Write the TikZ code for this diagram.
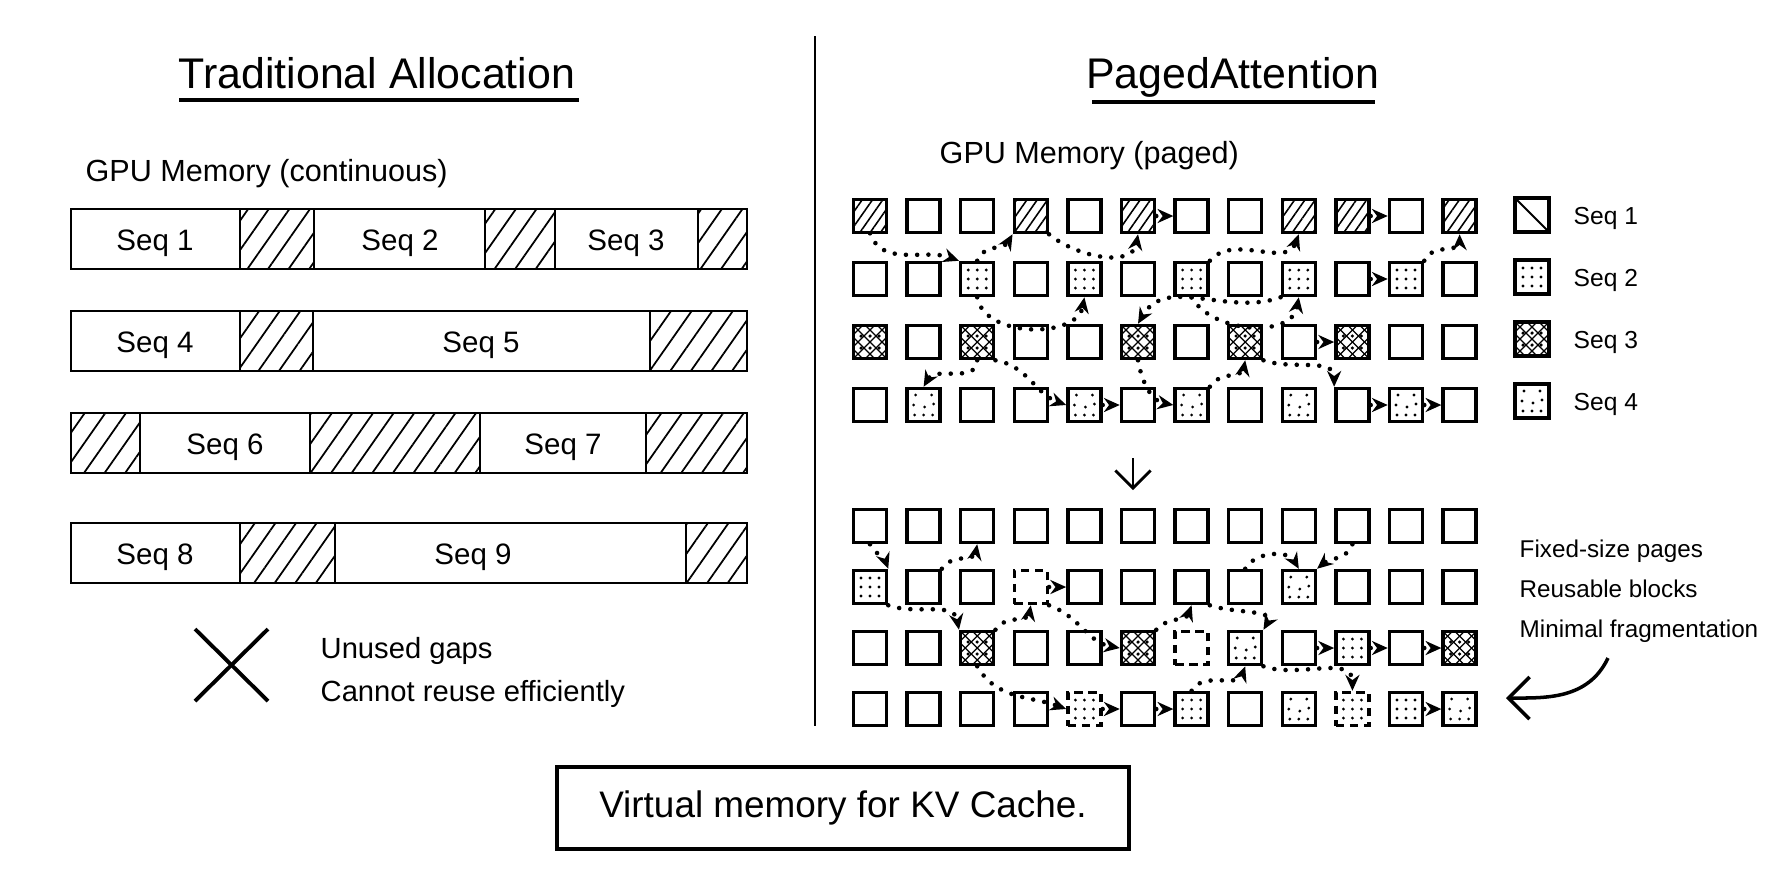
\documentclass[tikz,border=0pt]{standalone}
\usepackage{fontspec}
\setmainfont{Liberation Sans}
\usetikzlibrary{arrows.meta, patterns.meta, positioning}

\tikzset{
  blk/.style={draw, line width=1pt, inner sep=0pt, minimum width=3.3mm, minimum height=3.3mm},
  kind e/.style={},
  kind h/.style={pattern={Lines[angle=55,distance=2.4pt,line width=0.45pt]}},
  kind d/.style={path picture={\begin{scope}[shift={(path picture bounding box.center)}]
      \foreach \i in {-9,0,9} \foreach \j in {-9,0,9} \fill (\i,\j) circle (0.45pt);
    \end{scope}}},
  kind s/.style={path picture={\begin{scope}[shift={(path picture bounding box.center)}]
      \foreach \i/\j in {-8/-10,8/-10,-10/0,1/2,10/-1,-9/10,0/10,9/10} \fill (\i,\j) circle (0.45pt);
    \end{scope}}},
  kind x/.style={path picture={\begin{scope}[shift={(path picture bounding box.center)}]
      \foreach \s in {-24,-12,0,12,24} {
        \draw[line width=0.35pt] (\s-18,18) -- (\s+18,-18);
        \draw[line width=0.35pt] (\s-18,-18) -- (\s+18,18);
      }
      \foreach \i in {-9,0,9} \foreach \j in {-6,6} \fill (\i,\j) circle (0.5pt);
    \end{scope}}},
  kind f/.style={dash pattern=on 2.4pt off 1.6pt},
  kind g/.style={kind f, kind d},
  kind l/.style={path picture={\draw[line width=0.6pt] (path picture bounding box.north west) -- (path picture bounding box.south east);}},
  link/.style={line width=1.3pt, dash pattern=on 0pt off 3.2pt, line cap=round, -{Stealth[length=4.5pt,width=4pt]}},
  bar/.style={line width=0.8pt},
  gap/.style={line width=0.8pt, pattern={Lines[angle=55,distance=4.8pt,line width=0.5pt]}},
  ttl/.style={anchor=base, inner sep=0pt, font=\fontsize{12.2}{15}\selectfont},
  sub/.style={anchor=base west, inner sep=0pt, font=\fontsize{8.7}{11}\selectfont},
  seqlbl/.style={anchor=base, inner sep=0pt, font=\fontsize{8.4}{10}\selectfont},
  leglbl/.style={anchor=base west, inner sep=0pt, font=\fontsize{7}{9}\selectfont},
  note/.style={anchor=base west, inner sep=0pt, font=\fontsize{8.3}{10}\selectfont},
  notes/.style={anchor=base west, inner sep=0pt, font=\fontsize{6.9}{9}\selectfont}
}

\begin{document}
\begin{tikzpicture}[x=0.1mm, y=-0.1mm]
  \useasboundingbox (0,0) rectangle (1774,887);
  \fill[white] (0,0) rectangle (1774,887);

  % titles
  \node[ttl] (ttl-trad) at (377,88) {Traditional Allocation};
  \draw[line width=0.9pt] (179,100) -- (579,100);
  \node[ttl] (ttl-paged) at (1233,88) {PagedAttention};
  \draw[line width=0.9pt] (1092,102) -- (1375,102);
  \draw[line width=0.7pt] (815,36) -- (815,726);

  % left: continuous memory
  \node[sub] (mem-cont) at (85,181) {GPU Memory (continuous)};
  \foreach \xa/\xb/\ya in {240/314/209, 485/555/209, 698/747/209, 240/313/311, 650/747/311,
      71/140/413, 310/480/413, 646/747/413, 240/335/523, 686/747/523}
    \draw[gap] (\xa,\ya) rectangle (\xb,\ya+60);
  \foreach \ya in {209,311,413,523}
    \draw[bar] (71,\ya) rectangle (747,\ya+60);
  \foreach \n/\x/\y in {1/155/209, 2/400/209, 3/626/209, 4/155/311, 5/481/311,
      6/225/413, 7/563/413, 8/155/523, 9/473/523}
    \node[seqlbl] (seq\n) at (\x,\y+41) {Seq \n};

  % big cross
  \draw[line width=1.1pt] (195,629) -- (268,701);
  \draw[line width=1.1pt] (195,701) -- (268,629);
  \node[note] (unused) at (320,658) {Unused gaps};
  \node[note] (noreuse) at (320,701) {Cannot reuse efficiently};

  % right: paged memory
  \node[sub] (mem-paged) at (939,163) {GPU Memory (paged)};
  \foreach \r/\row in {0/{h,e,e,h,e,h,e,e,h,h,e,h}, 1/{e,e,d,e,d,e,d,e,d,e,d,e},
      2/{x,e,x,e,e,x,e,x,e,x,e,e}, 3/{e,s,e,e,s,e,s,e,s,e,s,e}}
    \foreach \k [count=\c from 0] in \row
      \node[blk, kind \k] (t\r-\c) at ({870+53.6*\c},{216+63*\r}) {};

  \draw[link] (t0-0.south) to[out=-70,in=160] (t1-2.north west);
  \draw[link] (t1-2.north) to[out=70,in=-120] (t0-3.south west);
  \draw[link] (t0-3.south east) to[out=-40,in=-100] (t0-5.south);
  \draw[link] (t0-5.east) -- (t0-6.west);
  \draw[link] (t1-6.north east) to[out=50,in=-110] (t0-8.south);
  \draw[link] (t0-9.east) -- (t0-10.west);
  \draw[link] (t1-10.north east) to[out=70,in=-90] (t0-11.south);
  \draw[link] (t1-2.south) to[out=-80,in=-100] (t1-4.south);
  \draw[link] (t1-6.south) to[out=-60,in=-100] (t1-8.south);
  \draw[link] (t1-8.south west) to[out=-160,in=60] (t2-5.north);
  \draw[link] (t1-9.east) -- (t1-10.west);
  \draw[link] (t2-2.south) to[out=-90,in=60] (t3-1.north);
  \draw[link] (t2-2.south east) to[out=-10,in=160] (t3-4.west);
  \draw[link] (t3-4.east) -- (t3-5.west);
  \draw[link] (t2-5.south) to[out=-80,in=170] (t3-6.west);
  \draw[link] (t3-6.north east) to[out=60,in=-100] (t2-7.south);
  \draw[link] (t2-7.south east) to[out=-20,in=90] (t3-9.north west);
  \draw[link] (t2-8.east) -- (t2-9.west);
  \draw[link] (t3-9.east) -- (t3-10.west);
  \draw[link] (t3-10.east) -- (t3-11.west);

  % legend
  \foreach \n/\k/\y in {1/l/215, 2/d/277, 3/x/339, 4/s/401} {
    \node[blk, kind \k, minimum width=3.4mm, minimum height=3.4mm] (leg\n) at (1532,\y) {};
    \node[leglbl] (legtxt\n) at (1573,\y+9) {Seq \n};
  }

  % step down
  \coordinate (dn-a) at (1133,458);
  \coordinate (dn-b) at (1133,490);
  \draw[line width=0.8pt, -{Straight Barb[length=5pt]}] (dn-a) -- (dn-b);

  \foreach \r/\row in {0/{e,e,e,e,e,e,e,e,e,e,e,e}, 1/{d,e,e,f,e,e,e,e,s,e,e,e},
      2/{e,e,x,e,e,x,f,s,e,d,e,x}, 3/{e,e,e,e,g,e,d,e,s,g,d,s}}
    \foreach \k [count=\c from 0] in \row
      \node[blk, kind \k] (u\r-\c) at ({870+53.6*\c},{526+61*\r}) {};

  \draw[link] (u0-0.south) to[out=-60,in=110] (u1-0.north east);
  \draw[link] (u1-1.north east) to[out=60,in=-100] (u0-2.south);
  \draw[link] (u1-3.east) -- (u1-4.west);
  \draw[link] (u1-7.north) to[out=60,in=120] (u1-8.north);
  \draw[link] (u0-9.south) to[out=-110,in=40] (u1-8.north east);
  \draw[link] (u1-0.south east) to[out=-20,in=100] (u2-2.north west);
  \draw[link] (u2-2.north east) to[out=60,in=-100] (u1-3.south);
  \draw[link] (u1-3.south east) to[out=-20,in=170] (u2-5.west);
  \draw[link] (u2-5.north east) to[out=50,in=-110] (u1-6.south);
  \draw[link] (u1-6.south east) to[out=-20,in=60] (u2-7.north east);
  \draw[link] (u2-2.south) to[out=-60,in=160] (u3-4.west);
  \draw[link] (u3-4.east) -- (u3-5.west);
  \draw[link] (u3-5.east) -- (u3-6.west);
  \draw[link] (u3-6.north) to[out=60,in=-110] (u2-7.south);
  \draw[link] (u2-7.south east) to[out=-20,in=90] (u3-9.north);
  \draw[link] (u2-8.east) -- (u2-9.west);
  \draw[link] (u2-9.east) -- (u2-10.west);
  \draw[link] (u2-10.east) -- (u2-11.west);
  \draw[link] (u3-10.east) -- (u3-11.west);

  % notes on the right
  \node[notes] (fixed) at (1519,557) {Fixed-size pages};
  \node[notes] (reuse) at (1519,597) {Reusable blocks};
  \node[notes] (minfrag) at (1519,637) {Minimal fragmentation};
  \coordinate (cv-a) at (1608,658);
  \coordinate (cv-b) at (1506,698);
  \draw[line width=1pt, -{Straight Barb[length=6pt]}] (cv-a) .. controls (1588,700) and (1545,698) .. (cv-b);

  % bottom caption
  \node[draw, line width=0.9pt, minimum width=57.2mm, minimum height=8.2mm,
        font=\fontsize{10.5}{13}\selectfont] (caption) at (843,808) {Virtual memory for KV Cache.};
\end{tikzpicture}
\end{document}
